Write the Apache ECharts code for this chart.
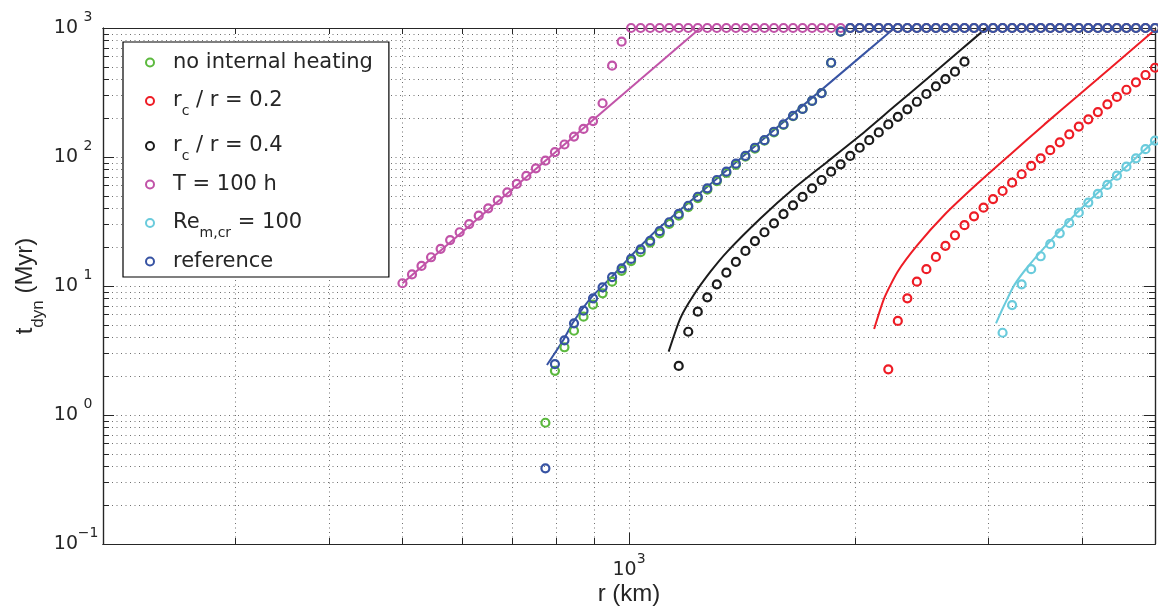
<!DOCTYPE html>
<html><head><meta charset="utf-8">
<script src="https://cdn.jsdelivr.net/npm/echarts@6/dist/echarts.min.js"></script>
<style>html,body{margin:0;padding:0;background:#fff}#c{width:1158px;height:612px}</style>
</head><body><div id="c"></div>
<script>
// radius grid (km) of the simulated bodies
const radius = [500.0,514.8,530.0,545.7,561.9,578.5,595.6,613.2,631.4,650.0,
669.3,689.1,709.4,730.4,752.0,774.3,797.2,820.8,845.1,870.1,
895.8,922.3,949.6,977.7,1006.4,1036.2,1066.8,1098.4,1130.9,1164.3,
1198.8,1234.2,1270.7,1308.3,1347.0,1386.8,1427.9,1470.1,1513.6,1558.3,
1604.4,1651.9,1700.7,1751.0,1802.8,1856.1,1911.0,1967.5,2025.7,2085.6,
2147.3,2210.8,2276.2,2343.5,2412.8,2484.2,2557.6,2633.3,2711.2,2791.4,
2873.9,2958.9,3046.4,3136.5,3229.3,3324.8,3423.1,3524.4,3628.6,3735.9,
3846.4,3960.2,4077.3,4197.9,4322.1,4449.9,4581.5,4717.0,4856.5,5000.0];

const seriesNames = ['no internal heating','rc / r = 0.2','rc / r = 0.4','T = 100 h','Rem,cr = 100','reference'];
const seriesColors = ['#5cb93e','#ee1c25','#1b1b1b','#c153a8','#6acbdc','#3753a3'];

// t_dyn (Myr) markers; each list starts at the given index of radius
const greenStart = 15;
const greenT = [0.871,2.20,3.35,4.50,5.78,7.16,8.78,10.8,13.1,15.6,18.3,21.7,25.6,30.3,35.1,40.9,48.0,55.8,65.0,75.4,86.9,100.5,116,134,155,177,207,236,272,313,538,936,
1000,1000,1000,1000,1000,1000,1000,1000,1000,1000,1000,
1000,1000,1000,1000,1000,1000,1000,1000,1000,1000,1000,
1000,1000,1000,1000,1000,1000,1000,1000,1000,1000,1000];
const redStart = 51;
const redT = [2.26,5.36,8.03,10.8,13.5,16.8,20.5,24.7,29.6,34.7,40.5,47.2,54.5,63.2,73.5,85.2,97.7,113,130,150,172,196,223,256,292,332,379,432,492];
const blackStart = 29;
const blackT = [2.40,4.42,6.32,8.17,10.3,12.7,15.4,18.7,22.3,26.1,30.6,36.1,42.2,49.0,57.2,66.3,76.9,87.8,102,118,135,155,179,205,234,268,308,353,402,459,548];
const magentaStart = 0;
const magentaT = [10.5,12.3,14.3,16.7,19.4,22.7,26.1,30.2,35.1,40.0,46.2,53.2,61.8,71.3,81.7,93.6,109,125,144,165,190,261,510,783,
1000,1000,1000,1000,1000,1000,1000,1000,1000,1000,1000,
1000,1000,1000,1000,1000,1000,1000,1000,1000,1000,1000,
1000,1000,1000,1000,1000,1000,1000,1000,1000,1000,1000,
1000,1000,1000,1000,1000,1000,1000,1000,1000,1000,1000,
1000,1000,1000,1000,1000,1000,1000,1000,1000,1000,1000,1000];
const cyanStart = 63;
const cyanT = [4.34,7.12,10.3,13.5,17.0,21.1,25.6,30.8,37.0,44.3,51.7,60.7,71.6,84.1,97.7,115,134];
const blueStart = 15;
const blueT = [0.386,2.48,3.79,5.14,6.44,8.03,9.77,11.7,13.7,16.2,19.2,22.4,26.6,31.2,36.2,41.9,49.2,57.2,66.3,76.9,88.7,102,118,135,157,179,208,236,272,313,538,936,
1000,1000,1000,1000,1000,1000,1000,1000,1000,1000,1000,
1000,1000,1000,1000,1000,1000,1000,1000,1000,1000,1000,
1000,1000,1000,1000,1000,1000,1000,1000,1000,1000,1000];

// model curves [r (km), t_dyn (Myr)]
const redLine = [[2117,4.64],[2183,8.03],[2275,12.9],[2418,20.8],[2624,35.5],[2907,62.5],[3220,106],[3565,179],[3950,298],[4375,497],[4995,965]];
const blackLine = [[1129,3.10],[1170,5.62],[1219,8.51],[1283,12.9],[1350,18.4],[1496,33.5],[1657,57.2],[1835,92.0],[2032,148],[2251,246],[2494,408],[2761,678],[2985,1000]];
const magentaLine = [[500,10.5],[1244,1000]];
const cyanLine = [[3074,5.14],[3153,7.12],[3252,10.2],[3388,14.1],[3639,22.7],[3970,38.8],[4335,62.9],[5000,134]];
const blueLine = [[778,2.44],[818,3.81],[844,5.29],[893,8.26],[949,11.8],[1004,16.9],[1095,28.0],[2032,600],[2253,1000]];

// axis ticks
const xMinorTicks = [200,300,400,500,600,700,800,900,2000,3000,4000,5000];
const xMajorTicks = [1000];
const yMinorTicks = [0.2,0.3,0.4,0.5,0.6,0.7,0.8,0.9,2,3,4,5,6,7,8,9,20,30,40,50,60,70,80,90,200,300,400,500,600,700,800,900];
const yMajorTicks = [0.1,1,10,100,1000];

const WIDE = '"DejaVu Sans", Verdana, sans-serif';
const NAMEF = '"Liberation Sans", Arial, Helvetica, sans-serif';
const TXT = '#262626';

function pairs(start, vals){ return vals.map((v,i)=>[radius[start+i], v]); }
function powLabel(v){ const e=Math.round(Math.log10(v)); return '{b|10}{p|'+(e<0?'\u2212'+(-e):e)+'}'; }
function powRich(fixedW){
  const p = {fontSize:14,fontFamily:WIDE,color:TXT,lineHeight:14,padding:[0,0,21,0],verticalAlign:'middle',align:'left'};
  if (fixedW) p.width = fixedW;
  return {
    b:{fontSize:19,fontFamily:WIDE,color:TXT,lineHeight:22,verticalAlign:'middle'},
    p:p
  };
}
const legendRich = {
  a:{fontSize:21,fontFamily:WIDE,color:TXT,lineHeight:24,verticalAlign:'middle'},
  s:{fontSize:14,fontFamily:WIDE,color:TXT,lineHeight:12,padding:[20,0,0,0],verticalAlign:'middle'}
};
const nameRich = {
  a:{fontSize:24,fontFamily:NAMEF,color:TXT,lineHeight:28,verticalAlign:'middle'},
  s:{fontSize:17,fontFamily:NAMEF,color:TXT,lineHeight:14,padding:[26,0,0,0],verticalAlign:'middle'}
};
const legendText = {
  'no internal heating':'{a|no internal heating}',
  'rc / r = 0.2':'{a|r}{s|c}{a| / r = 0.2}',
  'rc / r = 0.4':'{a|r}{s|c}{a| / r = 0.4}',
  'T = 100 h':'{a|T = 100 h}',
  'Rem,cr = 100':'{a|Re}{s|m,cr}{a| = 100}',
  'reference':'{a|reference}'
};

const gridLine = {show:true,lineStyle:{color:'#707070',width:1,type:[1,3.5]}};
const axLine = {show:true,onZero:false,lineStyle:{color:TXT,width:1.2}};
function xAx(pos, ticks, len, main){
  return {type:'log',logBase:10,min:200,max:5000,position:pos,
    axisLine:axLine,
    axisTick:{show:true,inside:true,length:len,customValues:ticks,lineStyle:{color:TXT,width:1}},
    minorTick:{show:false},
    splitLine:main?gridLine:{show:false},
    axisLabel:main?{show:true,customValues:xMajorTicks,margin:15,formatter:powLabel,rich:powRich(0)}:{show:false},
    name:main?'r (km)':'',nameLocation:'middle',nameGap:36,nameMoveOverlap:false,
    nameTextStyle:{fontSize:24,fontFamily:NAMEF,color:TXT,lineHeight:28}};
}
function yAx(pos, ticks, len, main){
  return {type:'log',logBase:10,min:0.1,max:1000,position:pos,
    axisLine:axLine,
    axisTick:{show:true,inside:true,length:len,customValues:ticks,lineStyle:{color:TXT,width:1}},
    minorTick:{show:false},
    splitLine:main?gridLine:{show:false},
    axisLabel:main?{show:true,customValues:yMajorTicks,margin:5,formatter:powLabel,rich:powRich(20)}:{show:false},
    name:main?'{a|t}{s|dyn}{a| (Myr)}':'',nameLocation:'middle',nameGap:64,nameMoveOverlap:false,
    nameTextStyle:{rich:nameRich}};
}
const allX = xMinorTicks.concat(xMajorTicks), allY = yMinorTicks.concat(yMajorTicks);

const starts = [greenStart,redStart,blackStart,magentaStart,cyanStart,blueStart];
const vals = [greenT,redT,blackT,magentaT,cyanT,blueT];
const lines = [null,redLine,blackLine,magentaLine,cyanLine,blueLine];
const series = [];
seriesNames.forEach((n,i)=>{
  series.push({type:'scatter',name:n,data:pairs(starts[i],vals[i]),symbol:'circle',symbolSize:8,
    itemStyle:{color:'rgba(255,255,255,0)',borderColor:seriesColors[i],borderWidth:2.2,opacity:1},
    emphasis:{disabled:true},z:2});
  if(lines[i]) series.push({type:'line',name:n+' (model)',data:lines[i],showSymbol:false,symbol:'none',smooth:0.2,
    lineStyle:{color:seriesColors[i],width:2},emphasis:{disabled:true},z:2});
});

const chart = echarts.init(document.getElementById('c'),null,{renderer:'canvas'});
chart.setOption({
  animation:false,
  backgroundColor:'#fff',
  grid:{left:103,right:3,top:28,bottom:68,containLabel:false,outerBoundsMode:'none'},
  xAxis:[xAx('bottom',allX,6,true),xAx('top',allX,6,false),xAx('bottom',xMajorTicks,11,false),xAx('top',xMajorTicks,11,false)],
  yAxis:[yAx('left',allY,6,true),yAx('right',allY,6,false),yAx('left',yMajorTicks,11,false),yAx('right',yMajorTicks,11,false)],
  legend:{orient:'vertical',left:123,top:42,padding:[10,16,5,22],itemGap:11,itemWidth:36,itemHeight:8,
    data:seriesNames,icon:'circle',backgroundColor:'#fff',borderColor:'#000',borderWidth:1.2,borderRadius:0,
    selectedMode:false,
    formatter:n=>legendText[n],
    textStyle:{rich:legendRich}, z:10},
  series:series
});
</script></body></html>
